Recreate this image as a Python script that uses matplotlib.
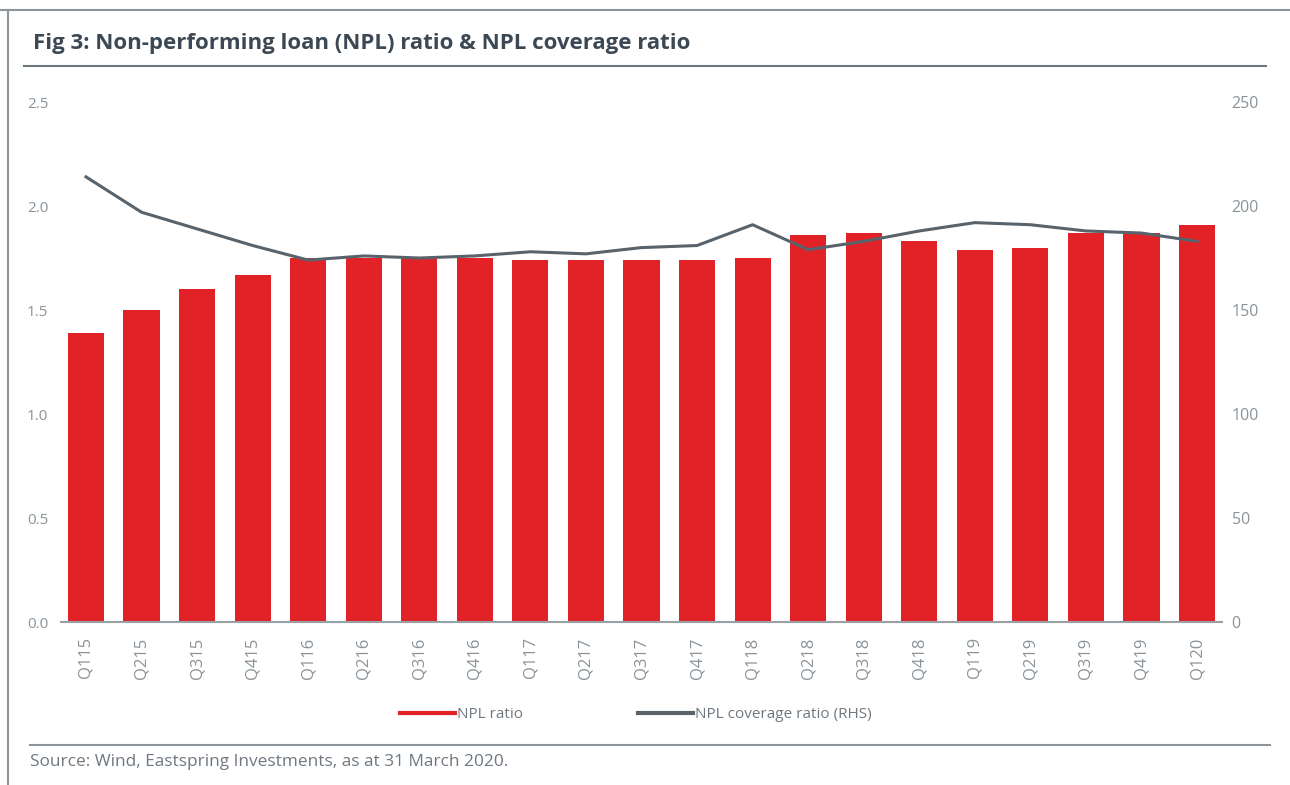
import matplotlib
matplotlib.use("Agg")
import matplotlib.pyplot as plt
from matplotlib.lines import Line2D

plt.rcParams["font.family"] = ["Open Sans", "DejaVu Sans"]

# Quarterly data
quarters = ["Q115", "Q215", "Q315", "Q415", "Q116", "Q216", "Q316", "Q416",
            "Q117", "Q217", "Q317", "Q417", "Q118", "Q218", "Q318", "Q418",
            "Q119", "Q219", "Q319", "Q419", "Q120"]
npl_ratio = [1.39, 1.50, 1.60, 1.67, 1.75, 1.75, 1.75, 1.75,
             1.74, 1.74, 1.74, 1.74, 1.75, 1.86, 1.87, 1.83,
             1.79, 1.80, 1.87, 1.87, 1.91]
coverage_ratio = [214, 197, 189, 181, 174, 176, 175, 176,
                  178, 177, 180, 181, 191, 179, 183, 188,
                  192, 191, 188, 187, 183]

red = "#e22227"
slate = "#58636c"
tick_grey = "#8a9399"
rule_grey = "#8d959b"

W, H = 1290, 785
fig = plt.figure(figsize=(W / 100, H / 100), dpi=100)

# frame and rules around the chart
fig.add_artist(Line2D([0, 1], [1 - 10 / H, 1 - 10 / H], color=rule_grey, lw=1.5))
fig.add_artist(Line2D([8 / W, 8 / W], [0, 1 - 10 / H], color=rule_grey, lw=1.5))
fig.add_artist(Line2D([24 / W, 1266 / W], [1 - 66 / H, 1 - 66 / H], color="#6d777e", lw=1.5))
fig.add_artist(Line2D([30 / W, 1270 / W], [1 - 745 / H, 1 - 745 / H], color=rule_grey, lw=1.5))

fig.text(33 / W, 1 - 44 / H, "Fig 3: Non-performing loan (NPL) ratio & NPL coverage ratio",
         fontsize=16, fontweight="bold", color="#3c4954", va="center", ha="left")
fig.text(30 / W, 1 - 762 / H, "Source: Wind, Eastspring Investments, as at 31 March 2020.",
         fontsize=12.4, color="#6f7880", va="center", ha="left")

ax_l, ax_r = 61, 1222
ax_t, ax_b = 102, 622
ax = fig.add_axes([ax_l / W, 1 - ax_b / H, (ax_r - ax_l) / W, (ax_b - ax_t) / H])
x = list(range(len(quarters)))
ax.bar(x, npl_ratio, width=0.65, color=red, zorder=2)
ax.set_xlim(-0.45, 20.45)
ax.set_ylim(0, 2.5)
ax.set_yticks([0, 0.5, 1.0, 1.5, 2.0, 2.5])
ax.set_yticklabels(["0.0", "0.5", "1.0", "1.5", "2.0", "2.5"])
ax.set_xticks(x)
ax.set_xticklabels(quarters, rotation=90)
for s in ["top", "right", "left"]:
    ax.spines[s].set_visible(False)
ax.spines["bottom"].set_color("#9aa1a6")
ax.spines["bottom"].set_linewidth(1.5)
ax.tick_params(axis="y", length=0, pad=9, labelsize=11, labelcolor=tick_grey)
ax.tick_params(axis="x", length=0, pad=11, labelsize=12, labelcolor=tick_grey)

ax2 = ax.twinx()
ax2.plot(x, coverage_ratio, color=slate, lw=2.2, zorder=3)
ax2.set_ylim(0, 250)
ax2.set_yticks([0, 50, 100, 150, 200, 250])
for s in ax2.spines.values():
    s.set_visible(False)
ax2.tick_params(axis="y", length=0, pad=7, labelsize=11.5, labelcolor=tick_grey)

handles = [Line2D([], [], color=red, lw=3), Line2D([], [], color=slate, lw=3)]
fig.legend(handles, ["NPL ratio", "NPL coverage ratio (RHS)"],
           loc="center", bbox_to_anchor=(636 / W, 1 - 715 / H), ncol=2, frameon=False,
           handlelength=3.6, handletextpad=0.15, columnspacing=7.5,
           fontsize=11, labelcolor="#6f7880")

fig.savefig("out.png", dpi=100)
